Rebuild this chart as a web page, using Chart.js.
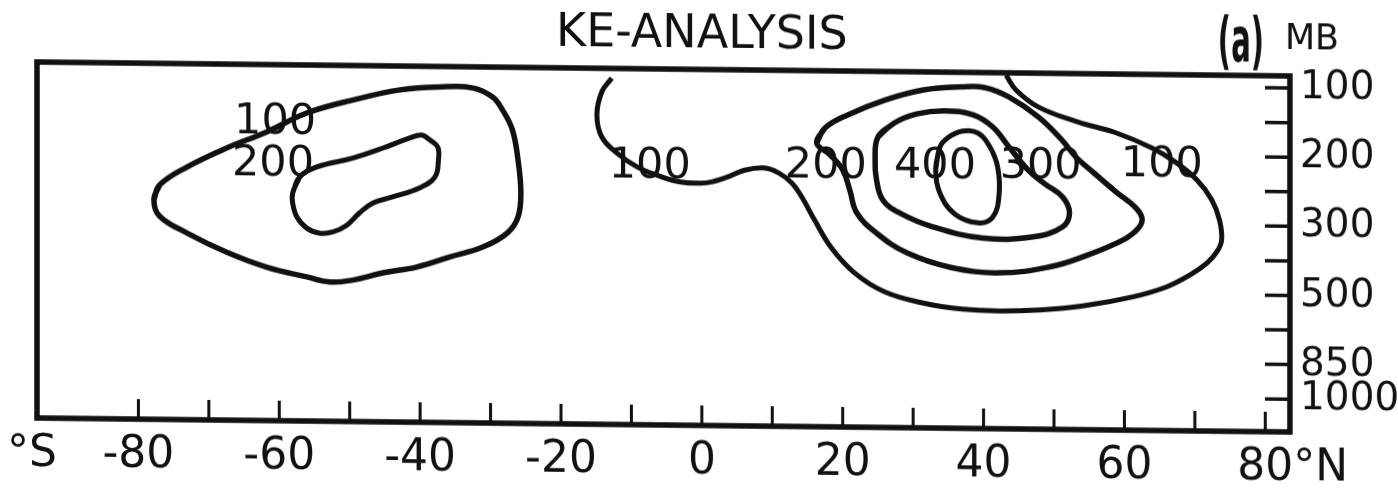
<!DOCTYPE html>
<html>
<head>
<meta charset="utf-8">
<script src="https://cdn.jsdelivr.net/npm/chart.js@4.4.1/dist/chart.umd.min.js"></script>
<style>
  html, body { margin: 0; padding: 0; background: #fff; overflow: hidden; }
  /* the scanned figure is slightly sheared: right side sits lower */
  #wrap { width: 1398px; height: 491px; transform: skewY(0.64deg); transform-origin: 37px 0; }
</style>
</head>
<body>
<div id="wrap"><canvas id="keChart" width="1398" height="491"></canvas></div>
<script>
// Pressure levels (mb) marked on the right axis, top to bottom (evenly spaced on the plot)
const levels = [100, 150, 200, 250, 300, 400, 500, 700, 850, 1000];
const labeledLevels = [100, 200, 300, 500, 850, 1000];

// Latitude tick marks and labels on the bottom axis
const latTicks = [-80, -70, -60, -50, -40, -30, -20, -10, 0, 10, 20, 30, 40, 50, 60, 70, 80];
const latLabels = [-80, -60, -40, -20, 0, 20, 40, 60, 80];

// Contours, each point is [latitude, level index] (level index = position in `levels`)
const sh100 = [[-77.8, 3.60], [-77.0, 3.17], [-73.1, 2.64], [-67.5, 2.08], [-61.8, 1.60], [-56.1, 1.04],
  [-49.6, 0.65], [-42.9, 0.34], [-37.2, 0.24], [-32.5, 0.26], [-29.7, 0.52], [-28.3, 0.89], [-26.9, 1.46],
  [-26.1, 2.33], [-25.7, 3.28], [-26.1, 3.98], [-27.6, 4.44], [-31.1, 4.86], [-35.8, 5.16], [-40.5, 5.46],
  [-45.3, 5.64], [-49.6, 5.86], [-52.8, 5.92], [-56.1, 5.78], [-61.8, 5.51], [-67.5, 5.09], [-73.1, 4.55],
  [-77.0, 4.07]];
const sh200 = [[-58.1, 3.36], [-57.1, 2.89], [-54.7, 2.60], [-49.6, 2.33], [-45.3, 2.03], [-41.5, 1.73],
  [-39.8, 1.64], [-38.6, 1.78], [-37.5, 1.98], [-37.4, 2.36], [-37.9, 2.85], [-40.1, 3.17], [-43.9, 3.44],
  [-46.7, 3.62], [-48.6, 3.91], [-50.4, 4.27], [-52.4, 4.47], [-54.3, 4.51], [-56.1, 4.37], [-57.5, 4.05],
  [-58.1, 3.65]];
const nh100 = [[-12.8, -0.07], [-14.2, 0.33], [-14.9, 1.00], [-14.2, 1.64], [-12.1, 2.09], [-9.2, 2.49],
  [-6.4, 2.72], [-3.1, 2.91], [0.6, 2.93], [3.3, 2.78], [6.1, 2.55], [8.8, 2.48], [10.9, 2.62], [12.8, 2.91],
  [14.2, 3.31], [16.0, 3.97], [18.4, 4.77], [21.7, 5.49], [26.0, 6.03], [31.5, 6.34], [37.0, 6.50],
  [42.4, 6.54], [48.0, 6.50], [54.1, 6.37], [61.2, 6.09], [66.0, 5.79], [69.3, 5.44], [71.7, 5.09],
  [73.1, 4.77], [73.8, 4.42], [73.5, 3.84], [72.4, 3.26], [70.3, 2.69], [67.4, 2.20], [63.9, 1.78],
  [58.8, 1.35], [53.4, 1.05], [47.8, 0.63], [44.6, 0.14], [43.2, -0.28]];
const nh200 = [[16.3, 1.74], [17.5, 1.30], [20.7, 0.92], [26.1, 0.47], [31.5, 0.17], [37.0, 0.07],
  [40.3, 0.09], [43.6, 0.35], [47.8, 0.92], [51.1, 1.57], [53.1, 2.06], [55.5, 2.49], [58.8, 3.06],
  [61.5, 3.49], [62.5, 3.81], [62.0, 4.10], [59.8, 4.45], [54.1, 4.95], [49.4, 5.25], [42.3, 5.44],
  [35.2, 5.29], [29.1, 4.89], [24.8, 4.33], [22.0, 3.75], [21.0, 3.09], [20.0, 2.51], [18.2, 2.08]];
const nh300 = [[25.0, 1.55], [27.3, 1.14], [30.5, 0.87], [34.4, 0.77], [38.6, 0.88], [41.3, 1.22],
  [43.6, 1.79], [46.3, 2.45], [48.7, 2.85], [51.2, 3.22], [52.2, 3.68], [51.2, 4.09], [47.0, 4.39],
  [39.9, 4.44], [32.8, 4.13], [28.1, 3.74], [25.7, 3.37], [24.8, 2.79], [24.6, 2.21]];
const nh400 = [[33.8, 1.82], [33.2, 2.48], [33.8, 3.15], [35.9, 3.75], [39.2, 4.00], [41.3, 3.83],
  [42.2, 3.19], [42.0, 2.38], [40.9, 1.80], [39.2, 1.40], [37.0, 1.35], [34.9, 1.55]];

// Contour value labels
const labelText = ['100', '200', '100', '200', '400', '300', '100'];
const labelLat = [-60.6, -60.9, -7.4, 17.6, 33.1, 48.1, 65.3];
const labelLev = [1.31, 2.55, 2.49, 2.43, 2.40, 2.36, 2.27];

const INK = '#111';
const FONT = '"DejaVu Sans", "Liberation Sans", sans-serif';

Chart.defaults.font.family = FONT;
Chart.defaults.color = INK;

function toPoints(pts) {
  return pts.map(p => ({ x: p[0], y: p[1] }));
}

// closed contour: run past the start so the join is smooth
function loop(pts) {
  return toPoints(pts.concat([pts[0], pts[1]]));
}

function contour(data, width) {
  return {
    data: data,
    showLine: true,
    borderColor: INK,
    borderWidth: width,
    pointRadius: 0,
    tension: 0.4,
    fill: false
  };
}

const decor = {
  id: 'decor',
  beforeDraw(chart) {
    const ctx = chart.ctx;
    ctx.save();
    ctx.fillStyle = '#fff';
    ctx.fillRect(0, 0, chart.width, chart.height);
    ctx.restore();
  },
  afterDatasetsDraw(chart) {
    const { ctx, scales: { x, y } } = chart;
    ctx.save();
    ctx.fillStyle = INK;
    ctx.font = '43px ' + FONT;
    ctx.textAlign = 'center';
    ctx.textBaseline = 'middle';
    labelText.forEach((t, i) => {
      ctx.fillText(t, x.getPixelForValue(labelLat[i]), y.getPixelForValue(labelLev[i]));
    });
    ctx.restore();
  },
  afterDraw(chart) {
    const { ctx, chartArea: a, scales: { x, y } } = chart;
    ctx.save();
    ctx.strokeStyle = INK;
    ctx.fillStyle = INK;

    // frame
    ctx.lineWidth = 5.5;
    ctx.strokeRect(a.left, a.top, a.right - a.left, a.bottom - a.top);

    // inward tick marks
    ctx.lineWidth = 3;
    ctx.beginPath();
    latTicks.forEach(v => {
      const px = x.getPixelForValue(v);
      ctx.moveTo(px, a.bottom);
      ctx.lineTo(px, a.bottom - 20);
    });
    ctx.stroke();
    ctx.lineWidth = 3.5;
    ctx.beginPath();
    levels.forEach((l, i) => {
      const py = y.getPixelForValue(i);
      ctx.moveTo(a.right, py);
      ctx.lineTo(a.right - 25, py);
    });
    ctx.stroke();

    // title
    ctx.font = '46px ' + FONT;
    ctx.textAlign = 'center';
    ctx.textBaseline = 'alphabetic';
    ctx.fillText('KE-ANALYSIS', x.getPixelForValue(0), a.top - 22.5);

    // panel letter, tall and narrow
    ctx.save();
    ctx.translate(a.right - 49, a.top - 14);
    ctx.scale(0.47, 1);
    ctx.font = 'bold 62px ' + FONT;
    ctx.fillText('(a)', 0, 0);
    ctx.restore();

    ctx.font = '35px ' + FONT;
    ctx.fillText('MB', a.right + 22, a.top - 27);

    // hemisphere marks beside the latitude labels
    ctx.font = '44px ' + FONT;
    ctx.textBaseline = 'middle';
    const ly = a.bottom + 10 + 26.4;
    ctx.textAlign = 'center';
    ctx.fillText('°S', a.left - 5, ly);
    ctx.textAlign = 'left';
    const p80 = x.getPixelForValue(80);
    ctx.fillText('°N', p80 + ctx.measureText('80').width / 2, ly);
    ctx.restore();
  }
};

new Chart(document.getElementById('keChart'), {
  type: 'scatter',
  data: {
    datasets: [
      contour(loop(sh100), 5.5),
      contour(loop(sh200), 5),
      contour(toPoints(nh100), 5),
      contour(loop(nh200), 5.5),
      contour(loop(nh300), 5.5),
      contour(loop(nh400), 5)
    ]
  },
  options: {
    responsive: false,
    animation: false,
    devicePixelRatio: 1,
    layout: { padding: { top: 62, left: 37, right: 0, bottom: 0 } },
    plugins: {
      legend: { display: false },
      tooltip: { enabled: false },
      title: { display: false }
    },
    scales: {
      x: {
        type: 'linear',
        min: -94.4,
        max: 83.5,
        grid: { display: false, drawTicks: false },
        border: { display: false },
        afterBuildTicks: scale => { scale.ticks = latLabels.map(v => ({ value: v })); },
        afterFit: scale => { scale.height = 73; },
        ticks: {
          autoSkip: false,
          maxRotation: 0,
          padding: 10,
          color: INK,
          font: { size: 44, lineHeight: 1.2 },
          callback: v => String(v)
        }
      },
      y: {
        type: 'linear',
        position: 'right',
        reverse: true,
        min: -0.35,
        max: 9.95,
        grid: { display: false, drawTicks: false },
        border: { display: false },
        afterBuildTicks: scale => { scale.ticks = labeledLevels.map(l => ({ value: levels.indexOf(l) })); },
        afterFit: scale => { scale.width = 108; },
        ticks: {
          autoSkip: false,
          padding: 10,
          color: INK,
          font: { size: 39 },
          callback: v => String(levels[v])
        }
      }
    }
  },
  plugins: [decor]
});
</script>
</body>
</html>
